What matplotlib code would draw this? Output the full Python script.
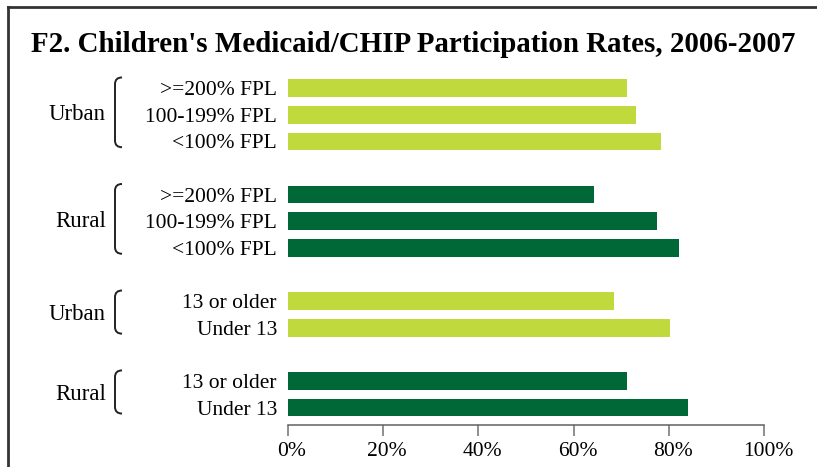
import matplotlib
matplotlib.use("Agg")
import matplotlib.pyplot as plt
from matplotlib.lines import Line2D
from matplotlib.path import Path
from matplotlib.patches import PathPatch
import matplotlib.transforms as mtransforms

# ---- data ----
row_labels = [">=200% FPL", "100-199% FPL", "<100% FPL",
              ">=200% FPL", "100-199% FPL", "<100% FPL",
              "13 or older", "Under 13",
              "13 or older", "Under 13"]
row_values = [71.2, 73.2, 78.3,
              64.2, 77.5, 82.1,
              68.4, 80.2,
              71.2, 84.0]
row_group = [0, 0, 0, 1, 1, 1, 2, 2, 3, 3]
group_names = ["Urban", "Rural", "Urban", "Rural"]
group_kind = ["urban", "rural", "urban", "rural"]
x_ticks = [0, 20, 40, 60, 80, 100]
x_tick_labels = ["0%", "20%", "40%", "60%", "80%", "100%"]
title = "F2. Children's Medicaid/CHIP Participation Rates, 2006-2007"

colors = {"urban": "#C0D93C", "rural": "#006837"}
serif = ["Liberation Serif", "DejaVu Serif"]
LABEL_FS = 15.5

# positions: groups separated by one empty slot
positions = []
pos = 0
prev = None
for g in row_group:
    if prev is not None and g != prev:
        pos += 1
    positions.append(pos)
    pos += 1
    prev = g

W, H = 817, 467
fig = plt.figure(figsize=(W / 100, H / 100), dpi=100)
ax_left, ax_right = 288 / W, 764 / W
ax_top_px, ax_bot_px = 70.8, 425
ax = fig.add_axes([ax_left, (H - ax_bot_px) / H, ax_right - ax_left,
                   (ax_bot_px - ax_top_px) / H])

bar_colors = [colors[group_kind[g]] for g in row_group]
ax.barh(positions, row_values, height=0.66, color=bar_colors, edgecolor="none")
ax.set_xlim(0, 100)
ax.set_ylim(positions[-1] + 0.65, -0.65)

ax.set_yticks(positions)
ax.set_yticklabels(row_labels, fontfamily=serif, fontsize=LABEL_FS)
ax.tick_params(axis="y", length=0, pad=8)
ax.set_xticks(x_ticks)
ax.set_xticklabels(x_tick_labels, fontfamily=serif, fontsize=LABEL_FS)
ax.tick_params(axis="x", direction="out", length=8, width=1.1, color="#707070", pad=4)
shift = mtransforms.ScaledTranslation(4 / 100, 0, fig.dpi_scale_trans)
for lab in ax.get_xticklabels():
    lab.set_transform(lab.get_transform() + shift)
for s in ["top", "right", "left"]:
    ax.spines[s].set_visible(False)
ax.spines["bottom"].set_color("#606060")
ax.spines["bottom"].set_linewidth(1.1)

# brackets + group labels
trans = mtransforms.blended_transform_factory(fig.transFigure, ax.transData)
x0 = 115 / W
x1 = 122 / W
for gi, name in enumerate(group_names):
    ps = [p for p, g in zip(positions, row_group) if g == gi]
    top = ps[0] - 0.40
    bot = ps[-1] + 0.22
    r = 0.25
    verts = [(x1, top), (x0, top), (x0, top + r), (x0, bot - r), (x0, bot), (x1, bot)]
    codes = [Path.MOVETO, Path.CURVE3, Path.CURVE3, Path.LINETO, Path.CURVE3, Path.CURVE3]
    ax.add_patch(PathPatch(Path(verts, codes), transform=trans, fill=False,
                           edgecolor="#222222", linewidth=1.4, clip_on=False))
    ymid = (ps[0] + ps[-1]) / 2
    ax.text(106 / W, ymid, name, transform=trans, ha="right", va="center",
            fontfamily=serif, fontsize=LABEL_FS + 1, clip_on=False)

# title, fitted to width
t = fig.text(31 / W, (H - 52) / H, title, fontfamily=serif, fontweight="bold",
             fontsize=17.5, ha="left", va="baseline")
fig.canvas.draw()
bb = t.get_window_extent()
t.set_fontsize(17.5 * (764 / bb.width))

# frame lines (top and left)
fig.add_artist(Line2D([8 / W, 8 / W], [0, (H - 7) / H], transform=fig.transFigure,
                      color="#333333", linewidth=2))
fig.add_artist(Line2D([8 / W, 1], [(H - 7) / H, (H - 7) / H], transform=fig.transFigure,
                      color="#333333", linewidth=2))

fig.savefig("out.png", dpi=100)
